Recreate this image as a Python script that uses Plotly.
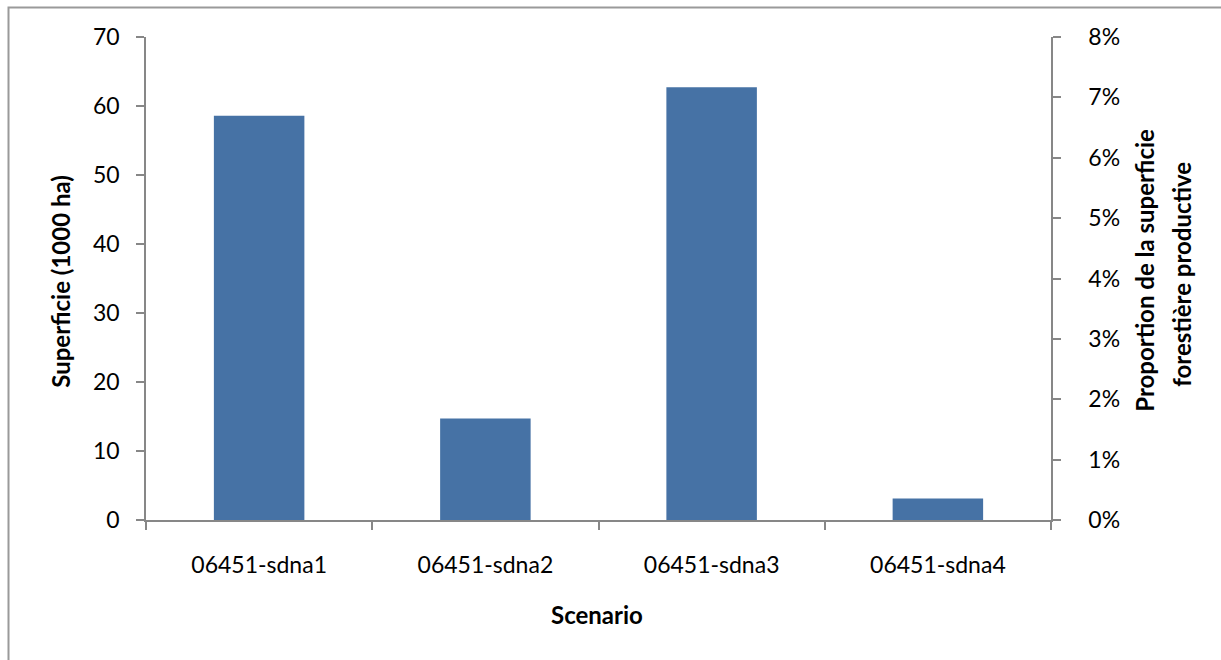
import plotly.graph_objects as go

# Scenario areas, in thousands of hectares
scenarios = ["06451-sdna1", "06451-sdna2", "06451-sdna3", "06451-sdna4"]
superficie = [58.6, 14.7, 62.7, 3.1]

left_ticks = [0, 10, 20, 30, 40, 50, 60, 70]
right_ticks = [0, 0.01, 0.02, 0.03, 0.04, 0.05, 0.06, 0.07, 0.08]

FONT = "Lato, 'Open Sans', sans-serif"
AXIS_GREY = "#878787"
TITLE_SIZE = 24

# Plot area in pixels, used to place the titles
PX_L, PX_R, PX_T, PX_B = 146, 1051, 37, 520.5


def px_x(x):
    return (x - PX_L) / (PX_R - PX_L)


def px_y(y):
    return (PX_B - y) / (PX_B - PX_T)


fig = go.Figure()
fig.add_trace(go.Bar(
    x=scenarios, y=superficie,
    marker=dict(color="#4672A5", line=dict(width=0)),
    width=0.4, showlegend=False, hoverinfo="x+y",
))
# Invisible trace carrying the secondary percentage axis
fig.add_trace(go.Scatter(
    x=scenarios, y=[None] * len(scenarios), yaxis="y2",
    mode="markers", showlegend=False, hoverinfo="skip",
))

title_font = dict(family=FONT, size=TITLE_SIZE, color="black")

fig.update_layout(
    width=1221, height=660,
    margin=dict(l=PX_L, r=1221 - PX_R, t=PX_T, b=660 - PX_B),
    paper_bgcolor="white", plot_bgcolor="white",
    font=dict(family=FONT, size=23, color="black"),
    bargap=0.6,
    xaxis=dict(
        showline=True, linecolor=AXIS_GREY, linewidth=1.5,
        ticks="outside", tickson="boundaries", ticklen=8,
        tickcolor=AXIS_GREY, tickwidth=1.5,
        ticklabelstandoff=24,
        showgrid=False,
    ),
    yaxis=dict(
        range=[0, 70], tickvals=left_ticks,
        showline=True, linecolor=AXIS_GREY, linewidth=1.5,
        ticks="outside", ticklen=8, tickcolor=AXIS_GREY, tickwidth=1.5,
        ticklabelstandoff=12,
        showgrid=False, zeroline=False,
    ),
    yaxis2=dict(
        overlaying="y", side="right",
        range=[0, 0.08], tickvals=right_ticks, tickformat=".0%",
        showline=True, linecolor=AXIS_GREY, linewidth=1.5,
        ticks="outside", ticklen=8, tickcolor=AXIS_GREY, tickwidth=1.5,
        ticklabelstandoff=23,
        showgrid=False, zeroline=False,
    ),
    annotations=[
        dict(text="<b>Superficie (1000 ha)</b>", textangle=-90,
             xref="paper", yref="paper", x=px_x(61), y=px_y(282),
             xanchor="center", yanchor="middle", showarrow=False, font=title_font),
        dict(text="<b>Scenario</b>",
             xref="paper", yref="paper", x=px_x(597), y=px_y(615),
             xanchor="center", yanchor="middle", showarrow=False, font=title_font),
        dict(text="<b>Proportion de la superficie</b>", textangle=-90,
             xref="paper", yref="paper", x=px_x(1145), y=px_y(271),
             xanchor="center", yanchor="middle", showarrow=False, font=title_font),
        dict(text="<b>forestière productive</b>", textangle=-90,
             xref="paper", yref="paper", x=px_x(1182), y=px_y(275),
             xanchor="center", yanchor="middle", showarrow=False, font=title_font),
    ],
    shapes=[
        # chart frame (extends off the right and bottom edges)
        dict(type="rect", xref="paper", yref="paper",
             x0=px_x(8.5), x1=1.3, y0=-0.4, y1=px_y(7.5),
             line=dict(color="#9A9A9A", width=2), fillcolor="rgba(0,0,0,0)",
             layer="below"),
    ],
)

fig.write_html("out.html")
